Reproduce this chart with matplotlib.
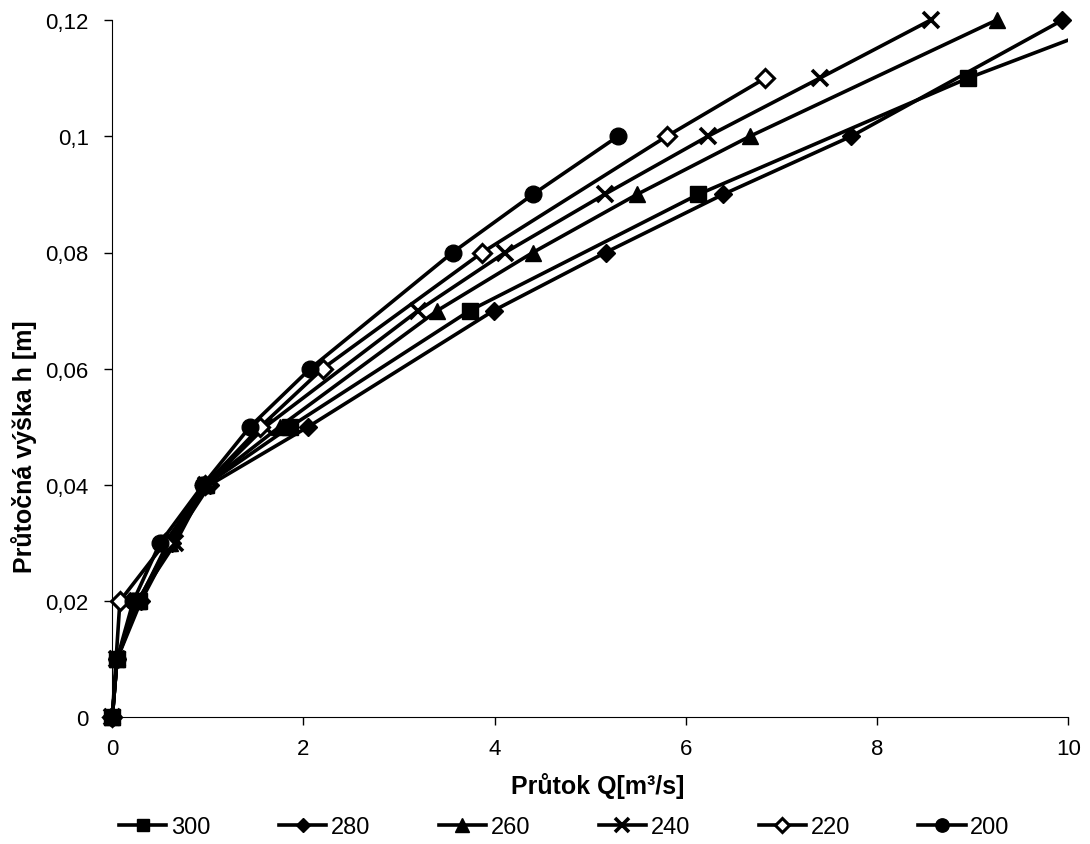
import matplotlib.pyplot as plt

plt.rcParams['font.family'] = ['Liberation Sans', 'DejaVu Sans']

# prutok Q [m3/s] a vyska h [m] pro jednotlive rady
q300 = [0, 0.05, 0.28, 0.58, 0.98, 1.86, 3.74, 6.13, 8.95, 10.55]
h300 = [0, 0.01, 0.02, 0.03, 0.04, 0.05, 0.07, 0.09, 0.11, 0.12]
q280 = [0, 0.05, 0.3, 0.62, 1.02, 2.05, 3.99, 5.16, 6.39, 7.73, 9.94]
h280 = [0, 0.01, 0.02, 0.03, 0.04, 0.05, 0.07, 0.08, 0.09, 0.10, 0.12]
q260 = [0, 0.05, 0.27, 0.6, 0.97, 1.75, 3.40, 4.40, 5.49, 6.67, 9.25]
h260 = [0, 0.01, 0.02, 0.03, 0.04, 0.05, 0.07, 0.08, 0.09, 0.10, 0.12]
q240 = [0, 0.05, 0.26, 0.66, 0.98, 1.60, 3.20, 4.11, 5.15, 6.23, 7.40, 8.56]
h240 = [0, 0.01, 0.02, 0.03, 0.04, 0.05, 0.07, 0.08, 0.09, 0.10, 0.11, 0.12]
q220 = [0, 0.08, 0.55, 0.97, 1.55, 2.20, 3.87, 5.80, 6.83]
h220 = [0, 0.02, 0.03, 0.04, 0.05, 0.06, 0.08, 0.10, 0.11]
q200 = [0, 0.05, 0.22, 0.50, 0.95, 1.44, 2.07, 3.56, 4.40, 5.29]
h200 = [0, 0.01, 0.02, 0.03, 0.04, 0.05, 0.06, 0.08, 0.09, 0.10]
labels = ['300', '280', '260', '240', '220', '200']

fig = plt.figure(figsize=(10.9, 8.45), dpi=100)
ax = fig.add_axes([0.103, 0.15, 0.877, 0.825])
ax.set_xlim(0, 10)
ax.set_ylim(0, 0.12)

lw = 2.6
# rada 300 presahuje osu -> cara orezana, znacky uvnitr grafu neorezane
ax.plot(q300, h300, color='black', lw=lw)
inside = [i for i, q in enumerate(q300) if q <= 10]
ax.plot(q300, h300, ls='none', marker='s', ms=11, color='black', markevery=inside, clip_on=False)
ax.plot([], [], color='black', lw=lw, marker='s', ms=11, label=labels[0])

kw = dict(color='black', lw=lw, clip_on=False)
ax.plot(q280, h280, marker='D', ms=9, label=labels[1], **kw)
ax.plot(q260, h260, marker='^', ms=12, label=labels[2], **kw)
ax.plot(q240, h240, marker='x', ms=12, mew=2.6, label=labels[3], **kw)
ax.plot(q220, h220, marker='D', ms=9, mfc='white', mew=2.2, label=labels[4], **kw)
ax.plot(q200, h200, marker='o', ms=12, label=labels[5], **kw)

ax.set_xticks([0, 2, 4, 6, 8, 10])
ax.set_yticks([0, 0.02, 0.04, 0.06, 0.08, 0.1, 0.12])
ax.set_yticklabels(['0', '0,02', '0,04', '0,06', '0,08', '0,1', '0,12'])
ax.tick_params(labelsize=16, length=6, width=1)
ax.tick_params(axis='y', pad=11)
ax.tick_params(axis='x', pad=9)
ax.spines['top'].set_visible(False)
ax.spines['right'].set_visible(False)
ax.set_xlabel('Průtok Q[m³/s]', fontsize=18, fontweight='bold')
ax.set_ylabel('Průtočná výška h [m]', fontsize=18, fontweight='bold')
ax.xaxis.set_label_coords(0.508, -0.079)
ax.yaxis.set_label_coords(-0.079, 0.389)

ax.legend(loc='center', bbox_to_anchor=(0.473, -0.158), ncol=6, frameon=False,
          fontsize=17, handlelength=2.0, columnspacing=2.9, handletextpad=0.2,
          markerscale=0.8)

fig.savefig('out.png', dpi=100)
